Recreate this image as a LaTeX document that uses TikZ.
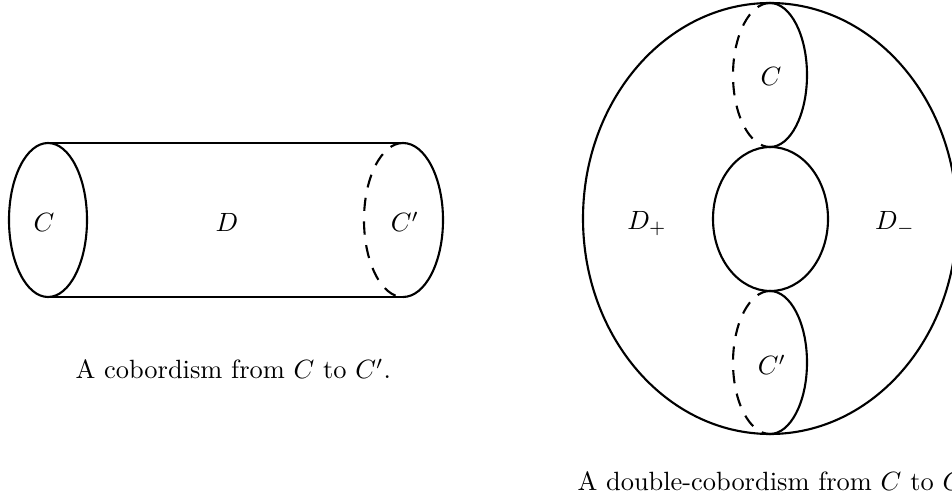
\documentclass[tikz,border=0pt]{standalone}
\tikzset{
  curve/.style={line width=0.8pt},
  hidden/.style={line width=0.8pt, dash pattern=on 5pt off 4pt},
  lbl/.style={inner sep=0pt}
}
\begin{document}
\begin{tikzpicture}[x=0.3788pt,y=0.3788pt]
\useasboundingbox (0,0) rectangle (952,-504);
\clip (0,0) rectangle (952,-504);
% cylinder
\draw[curve] (48,-220) ellipse[x radius=39, y radius=77];
\draw[curve] (48,-143) -- (403,-143);
\draw[curve] (48,-297) -- (403,-297);
\draw[curve] (403,-143) arc[start angle=90, end angle=-90, x radius=40, y radius=77];
\draw[hidden] (403,-143) arc[start angle=90, end angle=270, x radius=39, y radius=77];
\node[lbl] (c1) at (44,-222) {$C$};
\node[lbl] (d) at (227,-222) {$D$};
\node[lbl] (c1p) at (405,-222) {$C'$};
\node[lbl,anchor=base west] (cap1) at (75,-379) {A cobordism from $C$ to $C'$.};
% double cobordism
\draw[curve] (770,-218.5) ellipse[x radius=187, y radius=215.5];
\draw[curve] (770.5,-219) ellipse[x radius=57.5, y radius=72];
\draw[curve] (770,-3) arc[start angle=90, end angle=-90, x radius=37, y radius=72];
\draw[hidden] (770,-3) arc[start angle=90, end angle=270, x radius=37, y radius=72];
\draw[curve] (770,-291) arc[start angle=90, end angle=-90, x radius=37, y radius=71.5];
\draw[hidden] (770,-291) arc[start angle=90, end angle=270, x radius=37, y radius=71.5];
\node[lbl] (c2) at (771,-76) {$C$};
\node[lbl] (c2p) at (772,-365) {$C'$};
\node[lbl] (dp) at (647,-224) {$D_+$};
\node[lbl] (dm) at (895,-224) {$D_-$};
\node[lbl,anchor=base west] (cap2) at (577,-490) {A double-cobordism from $C$ to $C'$.};
\end{tikzpicture}
\end{document}
